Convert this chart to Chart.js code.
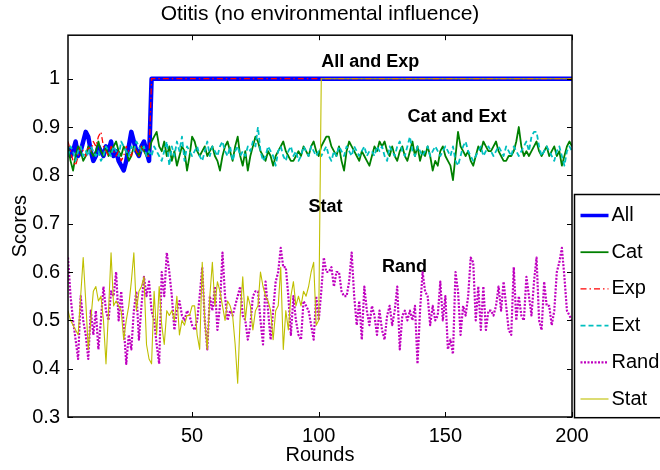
<!DOCTYPE html>
<html>
<head>
<meta charset="utf-8">
<title>Otitis</title>
<script src="https://cdn.jsdelivr.net/npm/chart.js@4.4.1/dist/chart.umd.min.js"></script>
<style>
  html, body { margin: 0; padding: 0; background: #fff; }
</style>
</head>
<body>
<canvas id="otitisChart" width="660" height="470"></canvas>
<script>
// axis ticks
var xTicks = [50, 100, 150, 200];
var yTicks = [0.3, 0.4, 0.5, 0.6, 0.7, 0.8, 0.9, 1];

// rounds where All/Exp and Stat reach the top score, last round
var firstRound = 1;
var lastRound = 200;
var topScore = 1;
var allJumpRound = 34;
var statJumpRound = 101;

// All: rounds 1..33, then at topScore
var allEarly = [0.86, 0.84, 0.85, 0.87, 0.84, 0.85, 0.87, 0.89, 0.88, 0.85,
  0.83, 0.84, 0.86, 0.85, 0.84, 0.86, 0.85, 0.87, 0.84, 0.85,
  0.83, 0.82, 0.81, 0.83, 0.86, 0.89, 0.87, 0.85, 0.84, 0.86,
  0.87, 0.85, 0.83];

// Exp: rounds 1..33, then at topScore
var expEarly = [0.87, 0.85, 0.83, 0.82, 0.84, 0.86, 0.85, 0.84, 0.86, 0.85,
  0.87, 0.86, 0.88, 0.89, 0.86, 0.85, 0.84, 0.86, 0.85, 0.84,
  0.85, 0.83, 0.84, 0.86, 0.85, 0.84, 0.86, 0.85, 0.84, 0.86,
  0.85, 0.84, 0.84];

var catScores = [
  0.86, 0.83, 0.81, 0.84, 0.86, 0.85, 0.83, 0.84, 0.86, 0.85,
  0.84, 0.85, 0.87, 0.85, 0.84, 0.86, 0.84, 0.85, 0.86, 0.87,
  0.85, 0.84, 0.86, 0.85, 0.83, 0.84, 0.86, 0.85, 0.84, 0.86,
  0.85, 0.84, 0.85, 0.87, 0.88, 0.89, 0.86, 0.85, 0.87, 0.84,
  0.86, 0.83, 0.85, 0.82, 0.84, 0.86, 0.85, 0.81, 0.84, 0.88,
  0.87, 0.85, 0.84, 0.85, 0.86, 0.84, 0.85, 0.86, 0.84, 0.83,
  0.81, 0.84, 0.86, 0.87, 0.85, 0.83, 0.86, 0.88, 0.84, 0.82,
  0.85, 0.81, 0.84, 0.86, 0.88, 0.87, 0.85, 0.84, 0.83, 0.85,
  0.84, 0.82, 0.84, 0.85, 0.86, 0.87, 0.85, 0.84, 0.83, 0.83,
  0.84, 0.85, 0.84, 0.86, 0.85, 0.84, 0.86, 0.87, 0.85, 0.84,
  0.86, 0.87, 0.88, 0.88, 0.86, 0.85, 0.84, 0.86, 0.83, 0.81,
  0.85, 0.87, 0.86, 0.85, 0.84, 0.83, 0.85, 0.84, 0.83, 0.82,
  0.84, 0.86, 0.85, 0.87, 0.86, 0.87, 0.85, 0.84, 0.86, 0.84,
  0.83, 0.85, 0.86, 0.84, 0.83, 0.85, 0.87, 0.84, 0.86, 0.83,
  0.85, 0.84, 0.86, 0.84, 0.81, 0.83, 0.82, 0.85, 0.86, 0.84,
  0.83, 0.82, 0.79, 0.84, 0.89, 0.86, 0.85, 0.84, 0.85, 0.83,
  0.82, 0.84, 0.86, 0.85, 0.87, 0.86, 0.85, 0.85, 0.86, 0.87,
  0.85, 0.84, 0.83, 0.83, 0.84, 0.84, 0.85, 0.87, 0.90, 0.86,
  0.84, 0.85, 0.84, 0.85, 0.86, 0.87, 0.85, 0.84, 0.85, 0.86,
  0.84, 0.85, 0.86, 0.84, 0.85, 0.82, 0.84, 0.86, 0.87, 0.86];

var extScores = [
  0.84, 0.86, 0.85, 0.83, 0.85, 0.86, 0.84, 0.85, 0.84, 0.86,
  0.85, 0.84, 0.85, 0.83, 0.84, 0.86, 0.85, 0.84, 0.86, 0.85,
  0.84, 0.87, 0.86, 0.85, 0.84, 0.86, 0.85, 0.87, 0.86, 0.85,
  0.86, 0.84, 0.85, 0.84, 0.86, 0.85, 0.84, 0.83, 0.85, 0.87,
  0.82, 0.86, 0.84, 0.87, 0.85, 0.88, 0.83, 0.86, 0.85, 0.84,
  0.85, 0.86, 0.84, 0.83, 0.85, 0.87, 0.84, 0.86, 0.85, 0.84,
  0.86, 0.87, 0.85, 0.84, 0.86, 0.83, 0.85, 0.86, 0.84, 0.85,
  0.84, 0.86, 0.85, 0.87, 0.86, 0.90, 0.85, 0.83, 0.84, 0.86,
  0.85, 0.84, 0.82, 0.85, 0.86, 0.84, 0.83, 0.85, 0.86, 0.84,
  0.85, 0.83, 0.84, 0.86, 0.85, 0.84, 0.86, 0.85, 0.84, 0.85,
  0.84, 0.85, 0.86, 0.84, 0.83, 0.85, 0.84, 0.86, 0.85, 0.84,
  0.86, 0.85, 0.84, 0.86, 0.85, 0.84, 0.85, 0.86, 0.84, 0.85,
  0.85, 0.84, 0.86, 0.85, 0.86, 0.84, 0.83, 0.86, 0.85, 0.84,
  0.86, 0.87, 0.85, 0.84, 0.86, 0.88, 0.85, 0.84, 0.86, 0.85,
  0.84, 0.85, 0.86, 0.84, 0.85, 0.86, 0.85, 0.84, 0.85, 0.86,
  0.85, 0.84, 0.86, 0.83, 0.82, 0.84, 0.86, 0.87, 0.85, 0.84,
  0.83, 0.84, 0.85, 0.86, 0.84, 0.85, 0.86, 0.85, 0.84, 0.85,
  0.86, 0.85, 0.84, 0.86, 0.85, 0.84, 0.86, 0.85, 0.84, 0.85,
  0.86, 0.87, 0.85, 0.88, 0.89, 0.89, 0.86, 0.84, 0.85, 0.86,
  0.85, 0.84, 0.83, 0.85, 0.86, 0.84, 0.82, 0.85, 0.86, 0.85];

var randScores = [
  0.63, 0.55, 0.50, 0.46, 0.42, 0.55, 0.50, 0.47, 0.42, 0.52,
  0.47, 0.52, 0.44, 0.50, 0.57, 0.52, 0.50, 0.56, 0.55, 0.60,
  0.50, 0.56, 0.49, 0.41, 0.47, 0.44, 0.52, 0.56, 0.46, 0.53,
  0.59, 0.55, 0.58, 0.52, 0.50, 0.45, 0.41, 0.60, 0.55, 0.64,
  0.60, 0.55, 0.48, 0.52, 0.54, 0.51, 0.50, 0.52, 0.51, 0.49,
  0.48, 0.50, 0.55, 0.61, 0.50, 0.44, 0.55, 0.52, 0.57, 0.48,
  0.53, 0.64, 0.55, 0.50, 0.52, 0.51, 0.53, 0.55, 0.57, 0.51,
  0.50, 0.46, 0.49, 0.55, 0.56, 0.56, 0.50, 0.45, 0.58, 0.52,
  0.46, 0.52, 0.58, 0.60, 0.65, 0.61, 0.61, 0.55, 0.47, 0.55,
  0.50, 0.47, 0.46, 0.54, 0.53, 0.52, 0.49, 0.46, 0.55, 0.50,
  0.56, 0.63, 0.60, 0.60, 0.61, 0.57, 0.60, 0.60, 0.56, 0.55,
  0.55, 0.58, 0.64, 0.55, 0.49, 0.54, 0.46, 0.57, 0.52, 0.49,
  0.53, 0.51, 0.47, 0.52, 0.48, 0.46, 0.51, 0.53, 0.49, 0.52,
  0.57, 0.44, 0.51, 0.52, 0.50, 0.52, 0.50, 0.53, 0.41, 0.52,
  0.60, 0.56, 0.55, 0.49, 0.53, 0.50, 0.51, 0.58, 0.50, 0.55,
  0.44, 0.46, 0.43, 0.60, 0.56, 0.47, 0.53, 0.51, 0.55, 0.63,
  0.62, 0.50, 0.57, 0.48, 0.57, 0.48, 0.52, 0.52, 0.51, 0.53,
  0.57, 0.52, 0.58, 0.53, 0.48, 0.47, 0.61, 0.50, 0.55, 0.51,
  0.50, 0.59, 0.55, 0.51, 0.58, 0.63, 0.50, 0.48, 0.58, 0.53,
  0.53, 0.49, 0.52, 0.60, 0.62, 0.65, 0.59, 0.52, 0.51, 0.50];

// Stat: rounds 1..100, then at topScore
var statEarly = [
  0.52, 0.50, 0.49, 0.48, 0.47, 0.55, 0.63, 0.54, 0.44, 0.50,
  0.56, 0.57, 0.54, 0.55, 0.50, 0.41, 0.52, 0.64, 0.53, 0.54,
  0.53, 0.52, 0.46, 0.50, 0.53, 0.58, 0.64, 0.52, 0.56, 0.57,
  0.59, 0.45, 0.42, 0.41, 0.56, 0.47, 0.57, 0.49, 0.45, 0.52,
  0.51, 0.52, 0.50, 0.55, 0.47, 0.50, 0.49, 0.51, 0.51, 0.53,
  0.53, 0.47, 0.44, 0.62, 0.50, 0.44, 0.55, 0.62, 0.53, 0.58,
  0.56, 0.53, 0.50, 0.54, 0.53, 0.51, 0.45, 0.37, 0.51, 0.59,
  0.50, 0.55, 0.53, 0.48, 0.52, 0.53, 0.60, 0.57, 0.55, 0.54,
  0.52, 0.46, 0.52, 0.53, 0.61, 0.44, 0.52, 0.48, 0.55, 0.58,
  0.53, 0.55, 0.53, 0.56, 0.55, 0.57, 0.60, 0.62, 0.49, 0.50];

// text labels inside the plot (round, score)
var noteLabels = ["All and Exp", "Cat and Ext", "Stat", "Rand"];
var noteRounds = [101, 135, 96, 125];
var noteScores = [1.035, 0.92, 0.735, 0.61];

// turn a list of scores into {x, y} points starting at a round
function toPoints(values, start) {
  var pts = [];
  for (var i = 0; i < values.length; i++) {
    pts.push({ x: start + i, y: values[i] });
  }
  return pts;
}

var allData = toPoints(allEarly, firstRound).concat([{ x: allJumpRound, y: topScore }, { x: lastRound, y: topScore }]);
var expData = toPoints(expEarly, firstRound).concat([{ x: allJumpRound, y: topScore }, { x: lastRound, y: topScore }]);
var statData = toPoints(statEarly, firstRound).concat([{ x: statJumpRound, y: topScore }, { x: lastRound, y: topScore }]);

var FONT = "'Liberation Sans', Arial, Helvetica, sans-serif";

// box, inward ticks, text labels and legend like the matlab figure
var matlabLook = {
  id: 'matlabLook',
  afterDraw: function (chart) {
    var ctx = chart.ctx;
    var a = chart.chartArea;
    var xs = chart.scales.x;
    var ys = chart.scales.y;
    ctx.save();

    // box
    ctx.strokeStyle = '#000';
    ctx.lineWidth = 1.5;
    ctx.strokeRect(a.left, a.top, a.right - a.left, a.bottom - a.top);

    // inward ticks
    ctx.lineWidth = 1;
    ctx.beginPath();
    xTicks.forEach(function (v) {
      var px = Math.round(xs.getPixelForValue(v)) + 0.5;
      ctx.moveTo(px, a.bottom); ctx.lineTo(px, a.bottom - 5);
      ctx.moveTo(px, a.top); ctx.lineTo(px, a.top + 5);
    });
    yTicks.forEach(function (v) {
      var py = Math.round(ys.getPixelForValue(v)) + 0.5;
      ctx.moveTo(a.left, py); ctx.lineTo(a.left + 5, py);
      ctx.moveTo(a.right, py); ctx.lineTo(a.right - 5, py);
    });
    ctx.stroke();

    // text labels
    ctx.fillStyle = '#000';
    ctx.font = 'bold 18px ' + FONT;
    ctx.textAlign = 'left';
    ctx.textBaseline = 'middle';
    for (var i = 0; i < noteLabels.length; i++) {
      ctx.fillText(noteLabels[i], xs.getPixelForValue(noteRounds[i]), ys.getPixelForValue(noteScores[i]));
    }

    // legend
    var lx = a.right + 2.5;
    var ly = 194.5;
    var rowH = 36.7;
    var sets = chart.data.datasets;
    ctx.fillStyle = '#fff';
    ctx.fillRect(lx, ly, 120, sets.length * rowH + 3);
    ctx.strokeStyle = '#000';
    ctx.lineWidth = 1.5;
    ctx.strokeRect(lx, ly, 120, sets.length * rowH + 3);
    ctx.font = '20px ' + FONT;
    ctx.textBaseline = 'middle';
    sets.forEach(function (ds, k) {
      var cy = ly + 21 + k * rowH;
      ctx.strokeStyle = ds.borderColor;
      ctx.lineWidth = Math.min(ds.borderWidth, 3.5);
      ctx.setLineDash(ds.borderDash || []);
      ctx.beginPath();
      ctx.moveTo(lx + 6, cy);
      ctx.lineTo(lx + 34, cy);
      ctx.stroke();
      ctx.setLineDash([]);
      ctx.fillStyle = '#000';
      ctx.fillText(ds.label, lx + 37, cy);
    });
    ctx.restore();
  }
};

var ctx1 = document.getElementById('otitisChart');
var otitisChart = new Chart(ctx1, {
  type: 'line',
  data: {
    datasets: [
      { label: 'All', data: allData, borderColor: '#0000ff', borderWidth: 4.5, order: 5 },
      { label: 'Cat', data: toPoints(catScores, firstRound), borderColor: '#008000', borderWidth: 1.8, order: 4 },
      { label: 'Exp', data: expData, borderColor: '#ff0000', borderWidth: 1.3, borderDash: [6, 3, 1.5, 3], order: 3 },
      { label: 'Ext', data: toPoints(extScores, firstRound), borderColor: '#00bfbf', borderWidth: 1.8, borderDash: [5, 3], order: 2 },
      { label: 'Rand', data: toPoints(randScores, firstRound), borderColor: '#bf00bf', borderWidth: 2.2, borderDash: [2, 1.5], order: 1 },
      { label: 'Stat', data: statData, borderColor: '#bfbf00', borderWidth: 1.1, order: 0 }
    ]
  },
  options: {
    responsive: false,
    animation: false,
    events: [],
    layout: { padding: { left: 0, right: 88, top: 0, bottom: 0 } },
    elements: {
      point: { radius: 0 },
      line: { tension: 0, fill: false, borderJoinStyle: 'round' }
    },
    plugins: {
      legend: { display: false },
      tooltip: { enabled: false },
      title: {
        display: true,
        text: 'Otitis (no environmental influence)',
        fullSize: false,
        color: '#000',
        font: { family: FONT, size: 21, weight: 'normal' },
        padding: { top: 2, bottom: 8 }
      }
    },
    scales: {
      x: {
        type: 'linear',
        min: firstRound,
        max: lastRound,
        grid: { display: false, drawTicks: false },
        border: { display: false },
        ticks: {
          color: '#000',
          padding: 7,
          maxRotation: 0,
          font: { family: FONT, size: 20 },
          callback: function (v) { return String(v); }
        },
        afterBuildTicks: function (scale) {
          scale.ticks = xTicks.map(function (v) { return { value: v }; });
        },
        afterFit: function (scale) { scale.height = 53; },
        title: {
          display: true,
          text: 'Rounds',
          color: '#000',
          font: { family: FONT, size: 20 },
          padding: { top: 0, bottom: 3 }
        }
      },
      y: {
        type: 'linear',
        min: 0.3,
        max: 1.09,
        grid: { display: false, drawTicks: false },
        border: { display: false },
        ticks: {
          color: '#000',
          padding: 8,
          font: { family: FONT, size: 20 },
          callback: function (v) { return String(v); }
        },
        afterBuildTicks: function (scale) {
          scale.ticks = yTicks.map(function (v) { return { value: v }; });
        },
        afterFit: function (scale) { scale.width = 68; },
        title: {
          display: true,
          text: 'Scores',
          color: '#000',
          font: { family: FONT, size: 20 },
          padding: { top: 8, bottom: 0 }
        }
      }
    }
  },
  plugins: [matlabLook]
});
</script>
</body>
</html>
